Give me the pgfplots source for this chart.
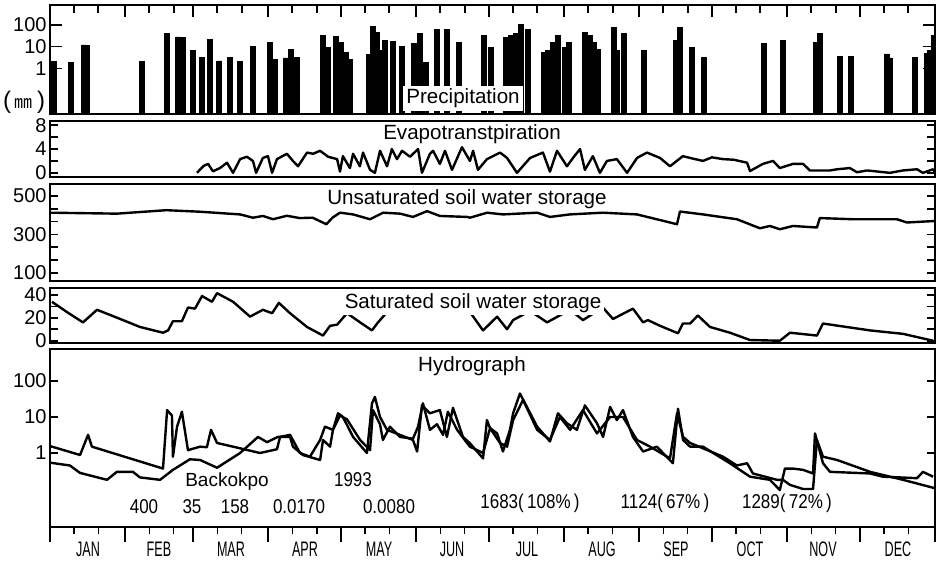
\documentclass[border=0pt]{standalone}
\usepackage{fontspec}
\setmainfont{Liberation Sans}
\newfontfamily\cjk{Noto Sans CJK JP}
\newfontfamily\narrow{Liberation Sans}[FakeStretch=0.6]
\newfontfamily\semi{Liberation Sans}[FakeStretch=0.85]
\usepackage{pgfplots}
\pgfplotsset{compat=1.18}

\pgfplotsset{
  panel/.style={scale only axis, width=442.5pt, anchor=north west,
    xmin=0, xmax=365, xtick=\empty,
    axis line style={line width=1pt}, tick style={line width=0.8pt, black},
    major tick length=4pt,
    tick label style={font=\fontsize{10}{10}\selectfont},
    yticklabel style={inner sep=1.5pt}},
  curve/.style={black, line width=1.2pt, line join=round, no marks},
  monthticks/.style={
    xtick={0,31,59,90,120,151,181,212,243,273,304,334,365},
    minor xtick={10,20,41,51,69,79,100,110,130,140,161,171,191,201,222,232,253,263,283,293,314,324,344,354},
    xticklabels={}},
}

\begin{document}
\begin{tikzpicture}[x=0.5pt,y=-0.5pt]
\useasboundingbox (0,0) rectangle (938,564);

% Precipitation (month ticks on its upper edge, pointing in)
\begin{axis}[panel, at={(25pt,-2.5pt)}, height=54.5pt,
  ymode=log, ymin=0.0078, ymax=835, log origin=infty,
  ytick={1,10,100}, yticklabels={1,10,100}, yminorticks=false,
  monthticks, xtick pos=top, tick align=inside,
  major tick length=6pt, minor tick length=4pt,
  x tick style={line width=1pt, black}]
\addplot[ybar, bar width=2, bar shift=0pt, fill=black, draw=black] coordinates {
(1.6,2.0)(8.7,1.8)(14.0,12)(15.3,11)(37.9,2.0)(48.3,42)(52.8,28)(54.9,26)
(59.0,6.9)(62.7,3.1)(66.0,21)(69.7,2.2)(74.2,3.3)(78.4,2.0)(83.7,10.7)(90.7,15.6)
(92.8,2.6)(97.3,3)(99.4,7.5)(101.9,3.1)(112.6,33)(114.7,9.6)(118.0,30)(120.0,15)
(122.1,5.6)(123.7,2.6)(131.6,4.4)(133.2,86)(134.9,44)(136.1,6.9)(138.2,20)(141.5,18)
(145.2,10.7)(150.1,14)(152.6,40)(155.1,1.8)(159.6,60)(163.7,60)(168.7,16)(179.0,33)
(181.9,9.6)(188.1,26)(190.1,33)(192.2,40)(194.2,105)(197.1,60)(203.7,5.6)(205.3,7)
(207.4,15)(209.5,33)(212.4,9.6)(214.0,15)(220.6,47)(222.7,33)(224.4,16)(226.0,7.5)
(232.6,75)(233.8,7)(236.7,40)(245.0,6.5)(258.2,20)(259.8,80)(264.8,9)(269.7,3.2)
(294.5,14)(302.3,20)(315.9,16)(317.6,40)(325.8,3.6)(330.3,3.6)(345.2,4.6)(346.4,3)
(356.7,3.2)(361.7,5)(362.9,7)(364.6,33)};
\end{axis}

% Evapotranspiration
\begin{axis}[panel, at={(25pt,-60.5pt)}, height=28pt,
  ymin=-0.7, ymax=8.7, ytick={0,2,4,6,8}, yticklabels={0,,4,,8}]
\addplot[curve] coordinates {
(60.6,0)(61.9,0.55)(63.5,1.2)(65.2,1.5)(67.2,0.26)(70.1,0.8)(73,1.7)(75.5,0)(78.4,2.3)
(81.2,2.7)(83.7,2)(85,0)(87.8,2.5)(89.9,2.8)(91.6,0)(93.6,2.3)(97.7,3.2)(100.2,2)
(102.3,1.1)(106,3.4)(108.5,3.2)(111.4,3.7)(114.7,2.7)(118.4,2.3)(119.6,0.2)(120.8,2.8)
(123.7,0.8)(125,3.2)(127.8,1.1)(129.1,3.4)(132,0.5)(134,0)(136.1,3.7)(139,1.1)(141,4)
(143.1,2.3)(145.2,3.7)(148.5,2.7)(151.8,4)(153.4,0)(156.7,3.2)(158,3.7)(160.8,1.5)
(162.9,3.7)(165.8,0.5)(169.9,4.3)(173.2,2)(174.5,3.7)(176.5,0.5)(180.2,2.3)(185.6,3.4)
(188.5,2.5)(192.6,0)(198,2.5)(203.3,3.4)(206.2,0.2)(209.1,3.7)(213.2,1.1)(215.7,2.5)
(218.6,4)(220.6,0.5)(223.9,2.8)(226.8,0)(229.7,2)(233.8,2.3)(238,0)(242.1,2.5)
(246.2,3.4)(251.6,2.5)(255.7,1.1)(261,2.8)(265,2.4)(269.3,2)(273,2.6)(277.6,2.3)
(282,2.2)(287.5,1.7)(288.7,0.3)(294,1.5)(298.2,2)(301,0.8)(306.4,1.5)(310.6,1.5)
(313.4,0.4)(321.7,0.4)(324.6,0.6)(329.9,0.8)(332.8,0.1)(337,0.4)(346.4,0)(351.8,0.4)
(357.6,0.6)(360,0)(364.2,0.6)(365,0)};
\end{axis}

% Unsaturated soil water storage
\begin{axis}[panel, at={(25pt,-92pt)}, height=48.5pt,
  ymin=58, ymax=562, ytick={100,166.67,233.33,300,366.67,433.33,500},
  yticklabels={100,,,300,,,500}]
\addplot[curve] coordinates {
(0,413)(27.6,408)(48,426)(61.9,418)(78.4,404)(83.7,387)(87.8,396)(92,379)(97.7,397)
(103,385)(108.3,387)(114,353)(116.5,387)(119.6,413)(125,404)(132,379)(137.4,413)
(144.4,408)(149.7,391)(155.5,421)(160.8,396)(172,391)(173.2,387)(180.3,413)(186.8,404)
(200.9,413)(206.2,391)(214.4,404)(228,413)(242.1,404)(258.6,353)(259.8,419)(269.3,404)
(283.3,379)(292.8,332)(296.9,344)(301,327)(306.4,344)(316.3,336)(317.5,385)(331.2,379)
(349.3,379)(353.4,362)(365,370)};
\end{axis}

% Saturated soil water storage
\begin{axis}[panel, at={(25pt,-144pt)}, height=27.5pt,
  ymin=-2, ymax=46, ytick={0,10,20,30,40}, yticklabels={0,,20,,40}]
\addplot[curve] coordinates {
(0.8,34)(7,25)(13.6,16)(19.4,27)(30.1,18)(37.1,12)(46.6,7)(48.7,9)(50.7,17)(54.4,17)
(56.9,29)(59.8,28)(62.7,39)(66.8,34)(68.9,41.5)(75.5,34)(82.5,21)(87.8,27)(91.6,24)
(94.4,33)(99,24)(106,12)(112.6,4.5)(115.5,13)(118.4,14)(122.5,24)(127.9,16)(132.8,9)
(134.9,15)(139,25)(144,33)(150,25)(158,32)(168,25)(173.2,25)(178.6,9)(184.4,21)
(188.5,10)(191,18)(198,26)(205,16)(214.5,27)(219.8,18)(228,29)(232.2,19)(240.4,28)
(244.6,16)(246.6,18)(251.6,13)(259,6.5)(261,15)(264,15)(267.2,22)(272.2,12)(280.4,7)
(288.7,0.6)(301,0)(305.2,7)(316.3,4.5)(318.8,15)(338.2,9)(351.8,6)(364.2,0)};
\end{axis}

% Hydrograph
\begin{axis}[panel, at={(25pt,-174.5pt)}, height=89pt,
  ymode=log, ymin=0.0088, ymax=774,
  ytick={1,10,100}, yticklabels={1,10,100}, yminorticks=false]
\addplot[curve] coordinates {
(0,1.56)(12.4,0.88)(15.7,3.2)(17.3,1.5)(46.6,0.37)(48.3,15.6)(50.3,11)(50.7,0.79)
(52.4,5.4)(54.4,14)(56.9,1.2)(61.9,1.5)(64.7,1.45)(66.4,4.4)(68.9,1.9)(75.5,1.5)
(86.6,1.0)(93.6,1.27)(94.9,2.8)(99,3.2)(103.1,1.0)(107.2,0.79)(111.4,2.3)(113.4,5.4)
(116.7,4.4)(118.8,12.7)(120.8,10)(125,2.8)(130.7,1.0)(132.8,24)(134,36)(136.1,10)
(139,4.4)(144.3,3.2)(149.7,2.3)(151.4,1.1)(153.4,21)(156.7,12.7)(160.8,15.6)(163.7,2.8)
(166.2,18)(170.3,2.8)(173.2,1.86)(178.6,0.71)(180.2,8.2)(181.5,4.9)(184.4,3.5)(186.8,1.1)
(189.7,4.4)(191,12.7)(193.8,45)(196.7,19)(200.9,5.4)(206.2,2.1)(209.5,12.7)(213.2,6.7)
(217.3,4.4)(220.6,21)(225.6,6.7)(228.1,2.8)(231,19)(233.8,8.2)(236.3,15.6)(240.4,2.8)
(244.6,1.1)(250.3,1.5)(256.9,0.52)(259,17)(261.1,2.3)(264,1.5)(269.3,1.5)(280.4,0.52)
(288.7,0.22)(296.9,0.18)(301,0.094)(303.1,0.37)(306.4,0.37)(310.6,0.34)(314.7,0.27)
(315.5,3.5)(318.8,0.52)(321.7,0.30)(338.2,0.27)(343.5,0.22)(357.6,0.2)(360,0.30)(364.2,0.22)};
\addplot[curve] coordinates {
(0,0.54)(8.2,0.45)(12.4,0.28)(23.5,0.18)(27.6,0.30)(34.2,0.30)(37.1,0.21)(45.4,0.18)
(50.7,0.34)(57.7,0.67)(61.9,0.64)(68.9,0.39)(78.4,1.0)(85.8,2.8)(89.5,2.0)(94,2.8)
(99,2.8)(100.2,1.5)(104.3,0.88)(111.4,0.64)(112.6,2.3)(115.5,1.5)(116.7,4.4)(119.6,11)
(122.5,8.6)(127.9,2.3)(132,1.2)(133.2,15.6)(136.1,6.3)(137.3,2.3)(140.2,5.4)(144.3,2.8)
(149.7,2.5)(151.8,5.4)(153.8,24)(156.7,4.4)(159.6,6.3)(162.1,3.2)(164.1,14)(167.9,4.4)
(172,1.9)(173.2,1.5)(178.6,1.0)(181.5,4.9)(185.6,1.9)(188.5,1.5)(191,8.2)(195.1,30)
(200.9,4.4)(206.2,2.3)(210.3,10)(214.5,4.4)(219.8,15.6)(225.6,3.5)(231,10)(236.3,10)
(242.1,2.3)(247.5,1.5)(255.7,0.71)(258.6,12.7)(261.1,2.8)(264,1.9)(277.6,0.79)
(283.3,0.45)(287.5,0.52)(289.9,0.27)(299.8,0.18)(302.3,0.18)(305.2,0.13)(310.6,0.1)
(314.7,0.1)(316.3,2.3)(318.8,0.79)(324.6,0.64)(338.2,0.30)(351.8,0.18)(365,0.105)};
\end{axis}

% month ticks under the hydrograph
\begin{axis}[panel, at={(25pt,-174.5pt)}, height=89pt, ymin=0, ymax=1,
  hide y axis, axis line style={draw=none}, tick align=outside,
  monthticks, xtick pos=bottom,
  major tick length=7.5pt, minor tick length=3.5pt]
\end{axis}

\tikzset{lab/.style={font=\fontsize{10.3}{12}\selectfont, anchor=base, inner sep=1.5pt},
  ann/.style={font=\fontsize{9.5}{11}\selectfont, anchor=base, inner sep=0pt},
  num/.style={font=\semi\fontsize{10}{11}\selectfont, anchor=base, inner sep=0pt},
  mon/.style={font=\narrow\fontsize{10.5}{11}\selectfont, anchor=base, inner sep=0pt}}
\node[lab, fill=white] at (463,103.5) {Precipitation};
\node[lab] at (472,139) {Evapotranstpiration};
\node[lab] at (467,204) {Unsaturated soil water storage};
\node[lab, fill=white] at (473,308) {Saturated soil water storage};
\node[lab] at (472,371.5) {Hydrograph};
\node[font=\fontsize{12}{12}\selectfont, inner sep=0pt] at (24,102) {(\,{\cjk\fontsize{9}{9}\selectfont ㎜}\,)};

\node[ann] at (227,486.5) {Backokpo};
\node[num] at (353,486.5) {1993};
\node[num] at (144,513) {400};
\node[num] at (192,513) {35};
\node[num] at (235,513) {158};
\node[num] at (299,513) {0.0170};
\node[num] at (389,513) {0.0080};
\node[num] at (530,508.5) {1683(\,108\%\,)};
\node[num] at (665,508.5) {1124(\,67\%\,)};
\node[num] at (787,508.5) {1289(\,72\%\,)};

\node[mon] at (88,556.5) {JAN};
\node[mon] at (159,556.5) {FEB};
\node[mon] at (231,556.5) {MAR};
\node[mon] at (305,556.5) {APR};
\node[mon] at (379,556.5) {MAY};
\node[mon] at (452,556.5) {JUN};
\node[mon] at (527,556.5) {JUL};
\node[mon] at (602,556.5) {AUG};
\node[mon] at (676,556.5) {SEP};
\node[mon] at (750,556.5) {OCT};
\node[mon] at (823,556.5) {NOV};
\node[mon] at (898,556.5) {DEC};
\end{tikzpicture}
\end{document}
